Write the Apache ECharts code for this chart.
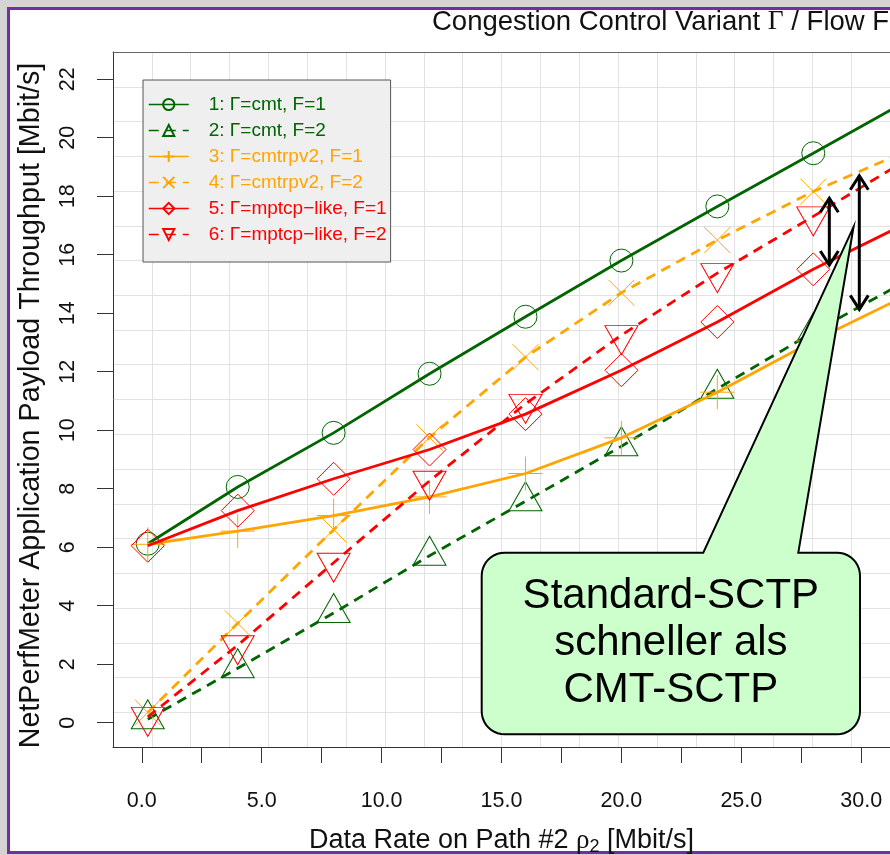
<!DOCTYPE html>
<html><head><meta charset="utf-8">
<script src="https://cdn.jsdelivr.net/npm/echarts@6/dist/echarts.min.js"></script>
<style>
html,body{margin:0;padding:0;width:890px;height:855px;overflow:hidden;background:#d4d4d4;}
#frame{position:absolute;left:7px;top:7px;width:1000px;height:841px;border-left:3px solid #7030a0;border-top:3px solid #7030a0;border-bottom:3px solid #7030a0;background:#fff;}
#chart{position:absolute;left:0;top:0;width:890px;height:855px;}
</style></head><body>
<div id="frame"></div><div id="chart"></div>
<script>
// ---- data ----
const rates = [0.25, 4, 8, 12, 16, 20, 24, 28, 32];
const cmtF1      = [6.12, 8.06, 9.91, 11.93, 13.88, 15.80, 17.65, 19.47, 21.30];
const cmtF2      = [0.12, 1.86, 3.75, 5.71, 7.57, 9.45, 11.42, 13.35, 15.15];
const cmtrpv2F1  = [6.10, 6.55, 7.08, 7.72, 8.52, 9.74, 11.30, 13.05, 14.65];
const cmtrpv2F2  = [0.35, 3.40, 6.60, 9.75, 12.50, 14.70, 16.50, 18.16, 19.58];
const mptcpF1    = [6.05, 7.25, 8.34, 9.34, 10.55, 12.05, 13.70, 15.50, 17.12];
const mptcpF2    = [0.20, 2.65, 5.47, 8.27, 10.90, 13.25, 15.37, 17.31, 19.30];
const seriesNames = ['1: Γ=cmt, F=1', '2: Γ=cmt, F=2', '3: Γ=cmtrpv2, F=1', '4: Γ=cmtrpv2, F=2', '5: Γ=mptcp\u2212like, F=1', '6: Γ=mptcp\u2212like, F=2'];
const xTickValues = [0, 2.5, 5, 7.5, 10, 12.5, 15, 17.5, 20, 22.5, 25, 27.5, 30];
const xLabelValues = [0, 5, 10, 15, 20, 25, 30];
const yTickValues = [0, 2, 4, 6, 8, 10, 12, 14, 16, 18, 20, 22];
const titleText = 'Congestion Control Variant {g|Γ} / Flow F';
const xName = 'Data Rate on Path #2 {g|ρ}{s|2} [Mbit/s]';
const yName = 'NetPerfMeter Application Payload Throughput [Mbit/s]';
const calloutText = 'Standard-SCTP\nschneller als\nCMT-SCTP';
// arrows (data space): [x, yTop, yBottom]
const arrows = [[28.67, 17.93, 15.65], [29.92, 18.70, 14.13]];
const calloutTip = [29.68, 16.95];

const FONT = "'Liberation Sans', Arial, Helvetica, sans-serif";
const SERIF = "'Liberation Serif', 'DejaVu Serif', serif";
const GREEN = '#006400', ORANGE = '#FFA500', RED = '#FF0000';

const defs = [
  {vals: cmtF1, color: GREEN, dash: false, symbol: 'circle', size: 23},
  {vals: cmtF2, color: GREEN, dash: true, symbol: 'triangle', size: [33, 29], offset: [0, -5]},
  {vals: cmtrpv2F1, color: ORANGE, dash: false, symbol: 'path://M0,1 L2,1 M1,0 L1,2', size: 34},
  {vals: cmtrpv2F2, color: ORANGE, dash: true, symbol: 'path://M0,0 L2,2 M0,2 L2,0', size: 26},
  {vals: mptcpF1, color: RED, dash: false, symbol: 'diamond', size: 33},
  {vals: mptcpF2, color: RED, dash: true, symbol: 'triangle', size: [33, 29], offset: [0, 5], rotate: 180}
];

const series = defs.map((d, i) => ({
  name: seriesNames[i],
  type: 'line',
  xAxisIndex: 0, yAxisIndex: 0,
  data: rates.map((r, k) => [r, d.vals[k]]),
  symbol: d.symbol,
  symbolSize: d.size,
  symbolOffset: d.offset || [0, 0],
  symbolRotate: d.rotate || 0,
  symbolKeepAspect: false,
  showAllSymbol: true,
  clip: true,
  z: 3 + i,
  lineStyle: {color: d.color, width: 2.8, type: d.dash ? [10, 7] : 'solid'},
  itemStyle: {color: 'rgba(0,0,0,0)', borderColor: d.color, borderWidth: 1},
  emphasis: {disabled: true},
  animation: false
}));

const chart = echarts.init(document.getElementById('chart'), null, {renderer: 'canvas'});
const AX = '#333';
chart.setOption({
  animation: false,
  textStyle: {fontFamily: FONT},
  title: {
    text: titleText, left: 432, top: 7, padding: 0,
    textStyle: {fontSize: 27.5, fontWeight: 'normal', color: '#111', fontFamily: FONT, lineHeight: 30,
      rich: {g: {fontSize: 27.5, fontFamily: SERIF, color: '#111', lineHeight: 30}}}
  },
  grid: {left: 113, top: 52, right: 0, bottom: 108, containLabel: false, outerBoundsMode: 'none', show: false},
  legend: {
    orient: 'vertical', left: 143, top: 80,
    padding: [15, 4, 18, 5], itemGap: 7, itemWidth: 40, itemHeight: 14,
    backgroundColor: '#efefef', borderColor: '#555', borderWidth: 1,
    textStyle: {fontSize: 19, fontFamily: FONT, padding: [0, 0, 0, 15]},
    lineStyle: {width: 1.5},
    data: seriesNames.map((n, i) => ({name: n, textStyle: {color: defs[i].color}})),
    selectedMode: false
  },
  xAxis: [{
    type: 'value', gridIndex: 0, position: 'bottom', min: -1.2, max: 31.2,
    axisLine: {show: true, onZero: false, lineStyle: {color: AX, width: 1}},
    axisTick: {show: true, customValues: xTickValues, length: 16, lineStyle: {color: AX}},
    axisLabel: {show: true, customValues: xLabelValues, margin: 43, fontSize: 21.5, color: '#111',
      formatter: v => Number(v).toFixed(1)},
    splitLine: {show: false},
    name: xName, nameLocation: 'middle', nameGap: 79,
    nameTextStyle: {fontSize: 27, color: '#111', fontFamily: FONT,
      rich: {g: {fontSize: 27, fontFamily: SERIF, color: '#111'}, s: {fontSize: 18, color: '#111', verticalAlign: 'bottom', padding: [12, 0, 0, 0]}}}
  }, {
    type: 'value', gridIndex: 0, position: 'top', min: 0, max: 20, interval: 1,
    axisLine: {show: true, onZero: false, lineStyle: {color: '#666', width: 1}},
    axisTick: {show: false}, axisLabel: {show: false},
    splitLine: {show: true, lineStyle: {color: '#e2e2e2', width: 1}}
  }],
  yAxis: [{
    type: 'value', gridIndex: 0, position: 'left', min: -0.83, max: 22.93,
    axisLine: {show: true, onZero: false, lineStyle: {color: AX, width: 1}},
    axisTick: {show: true, customValues: yTickValues, length: 16, lineStyle: {color: AX}},
    axisLabel: {show: true, customValues: yTickValues, rotate: 90, margin: 34, fontSize: 21.5, color: '#111'},
    splitLine: {show: false},
    name: yName, nameLocation: 'middle', nameGap: 67, nameRotate: 90,
    nameTextStyle: {fontSize: 28.7, color: '#111', fontFamily: FONT, padding: [0, 12, 0, 0]}
  }, {
    type: 'value', gridIndex: 0, position: 'right', min: 0, max: 20, interval: 1,
    axisLine: {show: false}, axisTick: {show: false}, axisLabel: {show: false},
    splitLine: {show: true, lineStyle: {color: '#e2e2e2', width: 1}}
  }],
  series: series
});

// ---- annotation overlay (callout + arrows) ----
const p = (x, y) => chart.convertToPixel({xAxisIndex: 0, yAxisIndex: 0}, [x, y]);
const tip = p(calloutTip[0], calloutTip[1]);
const bx0 = 481.7, by0 = 552.7, bx1 = 860, by1 = 734.3, rr = 23, pl = 703.3, pr = 798.3;
function arcPts(cx, cy, r, a0, a1) {
  const pts = [];
  const n = 10;
  for (let k = 0; k <= n; k++) {
    const a = (a0 + (a1 - a0) * k / n) * Math.PI / 180;
    pts.push([cx + r * Math.cos(a), cy + r * Math.sin(a)]);
  }
  return pts;
}
const calloutPts = [
  [pl, by0], tip, [pr, by0],
  ...arcPts(bx1 - rr, by0 + rr, rr, -90, 0),
  ...arcPts(bx1 - rr, by1 - rr, rr, 0, 90),
  ...arcPts(bx0 + rr, by1 - rr, rr, 90, 180),
  ...arcPts(bx0 + rr, by0 + rr, rr, 180, 270)
];
const arrowEls = [];
arrows.forEach(a => {
  const t = p(a[0], a[1]), b = p(a[0], a[2]);
  const x = t[0], hw = 9, hh = 14;
  const st = {stroke: '#000', lineWidth: 3, fill: null};
  arrowEls.push({type: 'line', z: 120, shape: {x1: x, y1: t[1], x2: x, y2: b[1]}, style: st});
  arrowEls.push({type: 'polyline', z: 120, shape: {points: [[x - hw, t[1] + hh], [x, t[1]], [x + hw, t[1] + hh]]}, style: st});
  arrowEls.push({type: 'polyline', z: 120, shape: {points: [[x - hw, b[1] - hh], [x, b[1]], [x + hw, b[1] - hh]]}, style: st});
});
chart.setOption({
  graphic: [
    ...arrowEls,
    {type: 'polygon', z: 110, shape: {points: calloutPts},
      style: {fill: '#ccffcc', stroke: '#000', lineWidth: 2, lineJoin: 'miter'}},
    {type: 'text', z: 111, x: (bx0 + bx1) / 2, y: (by0 + by1) / 2,
      style: {text: calloutText, fontSize: 42, fontFamily: FONT, fill: '#000', align: 'center', verticalAlign: 'middle', lineHeight: 46.7}}
  ]
});
</script>
</body></html>
